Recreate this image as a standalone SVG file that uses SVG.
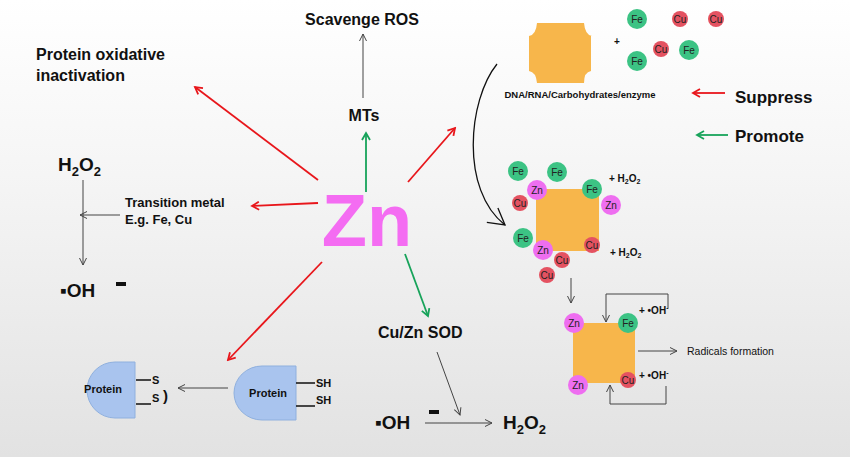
<svg xmlns="http://www.w3.org/2000/svg" width="850" height="457" viewBox="0 0 850 457">
<defs>
<linearGradient id="bg" x1="0" y1="0" x2="0" y2="1"><stop offset="0" stop-color="#ffffff"/><stop offset="0.35" stop-color="#f6f6f6"/><stop offset="1" stop-color="#e2e2e2"/></linearGradient>
<marker id="ar" markerWidth="10" markerHeight="10" refX="8" refY="5" orient="auto" markerUnits="userSpaceOnUse"><path d="M1,1 L8,5 L1,9" fill="none" stroke="#e8161b" stroke-width="1.8"/></marker>
<marker id="ag" markerWidth="10" markerHeight="10" refX="8" refY="5" orient="auto" markerUnits="userSpaceOnUse"><path d="M1,1 L8,5 L1,9" fill="none" stroke="#17a35a" stroke-width="1.8"/></marker>
<marker id="ak" markerWidth="10" markerHeight="10" refX="8" refY="5" orient="auto" markerUnits="userSpaceOnUse"><path d="M1,1.5 L8,5 L1,8.5" fill="none" stroke="#444" stroke-width="1"/></marker>
<marker id="akb" markerWidth="22" markerHeight="22" refX="18" refY="11" orient="auto" markerUnits="userSpaceOnUse"><path d="M2,2 L18,11 L2,20" fill="none" stroke="#111" stroke-width="1.3"/></marker>
</defs>
<style>
text{font-family:"Liberation Sans",Arial,sans-serif;fill:#111}
.b{font-weight:bold}
.red{stroke:#e8161b;stroke-width:1.8;fill:none;marker-end:url(#ar)}
.grn{stroke:#17a35a;stroke-width:1.8;fill:none;marker-end:url(#ag)}
.gry{stroke:#444;stroke-width:1;fill:none;marker-end:url(#ak)}
.ln{stroke:#444;stroke-width:1;fill:none}
.org{fill:#f7b64b}
.fe{fill:#3cc384}.cu{fill:#e45261}.zn{fill:#ee6ef0}
.ct{font-size:10px;text-anchor:middle;dominant-baseline:central;fill:#222}
.prot{fill:#a9c4ee;stroke:#8fb0de;stroke-width:1}
</style>
<rect width="850" height="457" fill="url(#bg)"/>

<g id="connectors">
<path class="red" d="M318,180 L195,87"/>
<path class="red" d="M318,203 L252,206"/>
<path class="red" d="M322,262 L228,360"/>
<path class="red" d="M408,182 L455,128"/>
<path class="grn" d="M366,192 L366,133"/>
<path class="grn" d="M405,254 L428,316"/>
<path class="gry" d="M363,98 L363,34"/>
<path class="gry" d="M120,215 L80,215"/>
<path class="gry" d="M83,180 L83,265"/>
<path class="gry" d="M228,388 L178,388"/>
<path class="gry" d="M437,352 L460,415"/>
<path class="gry" d="M425,423 L492,423"/>
<path d="M497,64 C468,100 460,190 505,225" fill="none" stroke="#111" stroke-width="1.3" marker-end="url(#akb)"/>
<path class="red" d="M725,93 L693,93"/>
<path class="grn" d="M728,135 L697,135"/>
<path class="gry" d="M571,278 L571,303"/>
<path class="ln" d="M668,294 L606,294"/><path class="ln" d="M668,294 L668,308"/><path class="gry" d="M606,294 L606,322"/>
<path class="ln" d="M666,386 L666,404 L610,404"/><path class="gry" d="M610,404 L610,385"/>
<path class="gry" d="M638,351 L677,351"/>
</g>

<g id="zn"><text x="367" y="246" font-size="74" class="b" text-anchor="middle" style="fill:#f46cf2">Zn</text></g>
<g id="scavenge"><text x="362" y="25" font-size="16" class="b" text-anchor="middle">Scavenge ROS</text></g>
<g id="mts"><text x="364" y="121" font-size="16" class="b" text-anchor="middle">MTs</text></g>
<g id="poi"><text x="36" y="60" font-size="16" class="b">Protein oxidative</text><text x="36" y="81" font-size="16" class="b">inactivation</text></g>
<g id="h2o2a"><text x="58" y="171" font-size="19" class="b">H<tspan font-size="13" dy="5">2</tspan><tspan dy="-5">O</tspan><tspan font-size="13" dy="5">2</tspan></text></g>
<g id="tm"><text x="125" y="207" font-size="13" class="b">Transition metal</text><text x="125" y="224" font-size="13" class="b">E.g. Fe, Cu</text></g>
<g id="oha"><text x="60" y="297" font-size="19" class="b">▪OH</text><rect x="116" y="282" width="10" height="4" fill="#111"/></g>
<g id="sod"><text x="378" y="338" font-size="16" class="b">Cu/Zn SOD</text></g>
<g id="ohb"><text x="375" y="429" font-size="19" class="b">▪OH</text><rect x="429" y="410" width="10" height="4" fill="#111"/></g>
<g id="h2o2b"><text x="503" y="429" font-size="19" class="b">H<tspan font-size="13" dy="5">2</tspan><tspan dy="-5">O</tspan><tspan font-size="13" dy="5">2</tspan></text></g>

<g id="protein1">
<path class="prot" d="M135,362 L135,418 L115,418 A28,28 0 0 1 115,362 Z"/>
<text x="103" y="393" font-size="11" class="b" text-anchor="middle">Protein</text>
<path d="M136,380 L151,380 M136,404 L151,404" stroke="#111" stroke-width="1.5"/>
<text x="152" y="384" font-size="11" class="b">S</text><text x="152" y="402" font-size="11" class="b">S</text>
<text x="163" y="401" font-size="15" class="b">)</text>
</g>
<g id="protein2">
<path class="prot" d="M296,366 L296,420 L262,420 A28,27 0 0 1 262,366 Z"/>
<text x="268" y="397" font-size="11" class="b" text-anchor="middle">Protein</text>
<path d="M296,383 L315,383 M296,406 L315,406" stroke="#111" stroke-width="1.5"/>
<text x="316" y="387" font-size="11" class="b">SH</text><text x="316" y="404" font-size="11" class="b">SH</text>
</g>

<g id="topmol">
<path class="org" d="M537,23 L584,23 Q585,35 592,36 L591,36 L591,71 Q584,72 584,83 L537,83 Q536,72 529,71 L529,36 Q536,35 537,23 Z"/>
<text x="580" y="98" font-size="9.5" class="b" text-anchor="middle">DNA/RNA/Carbohydrates/enzyme</text>
<text x="617" y="45" font-size="10" class="b" text-anchor="middle">+</text>
<circle class="fe" cx="637" cy="19" r="10"/><text class="ct" x="637" y="19">Fe</text>
<circle class="cu" cx="680" cy="19" r="8"/><text class="ct" x="680" y="19">Cu</text>
<circle class="cu" cx="716" cy="19" r="8"/><text class="ct" x="716" y="19">Cu</text>
<circle class="cu" cx="661" cy="49" r="8"/><text class="ct" x="661" y="49">Cu</text>
<circle class="fe" cx="689" cy="50" r="10"/><text class="ct" x="689" y="50">Fe</text>
<circle class="fe" cx="637" cy="61" r="10"/><text class="ct" x="637" y="61">Fe</text>
</g>

<g id="legend"><text x="735" y="103" font-size="17" class="b">Suppress</text><text x="735" y="142" font-size="17" class="b">Promote</text></g>

<g id="midmol">
<rect class="org" x="536" y="189" width="63" height="62"/>
<circle class="fe" cx="518" cy="171" r="10"/><text class="ct" x="518" y="171">Fe</text>
<circle class="fe" cx="557" cy="172" r="10"/><text class="ct" x="557" y="172">Fe</text>
<circle class="zn" cx="537" cy="190" r="10"/><text class="ct" x="537" y="190">Zn</text>
<circle class="fe" cx="592" cy="189" r="10"/><text class="ct" x="592" y="189">Fe</text>
<circle class="zn" cx="611" cy="205" r="10"/><text class="ct" x="611" y="205">Zn</text>
<circle class="cu" cx="520" cy="203" r="8"/><text class="ct" x="520" y="203">Cu</text>
<circle class="fe" cx="523" cy="238" r="10"/><text class="ct" x="523" y="238">Fe</text>
<circle class="zn" cx="543" cy="250" r="10"/><text class="ct" x="543" y="250">Zn</text>
<circle class="cu" cx="592" cy="245" r="8"/><text class="ct" x="592" y="245">Cu</text>
<circle class="cu" cx="562" cy="260" r="8"/><text class="ct" x="562" y="260">Cu</text>
<circle class="cu" cx="547" cy="275" r="8"/><text class="ct" x="547" y="275">Cu</text>
<text x="609" y="182" font-size="10" class="b">+  H<tspan font-size="7" dy="2">2</tspan><tspan dy="-2">O</tspan><tspan font-size="7" dy="2">2</tspan></text>
<text x="610" y="256" font-size="10" class="b">+  H<tspan font-size="7" dy="2">2</tspan><tspan dy="-2">O</tspan><tspan font-size="7" dy="2">2</tspan></text>
</g>

<g id="botmol">
<rect class="org" x="573" y="323" width="62" height="60"/>
<circle class="zn" cx="574" cy="323" r="10"/><text class="ct" x="574" y="323">Zn</text>
<circle class="fe" cx="628" cy="323" r="10"/><text class="ct" x="628" y="323">Fe</text>
<circle class="zn" cx="578" cy="385" r="10"/><text class="ct" x="578" y="385">Zn</text>
<circle class="cu" cx="628" cy="380" r="8"/><text class="ct" x="628" y="380">Cu</text>
<text x="639" y="314" font-size="10" class="b">+  •OH<tspan font-size="7" dy="-4">-</tspan></text>
<text x="639" y="379" font-size="10" class="b">+  •OH<tspan font-size="7" dy="-4">-</tspan></text>
<text x="687" y="355" font-size="10.5">Radicals formation</text>
</g>
</svg>
